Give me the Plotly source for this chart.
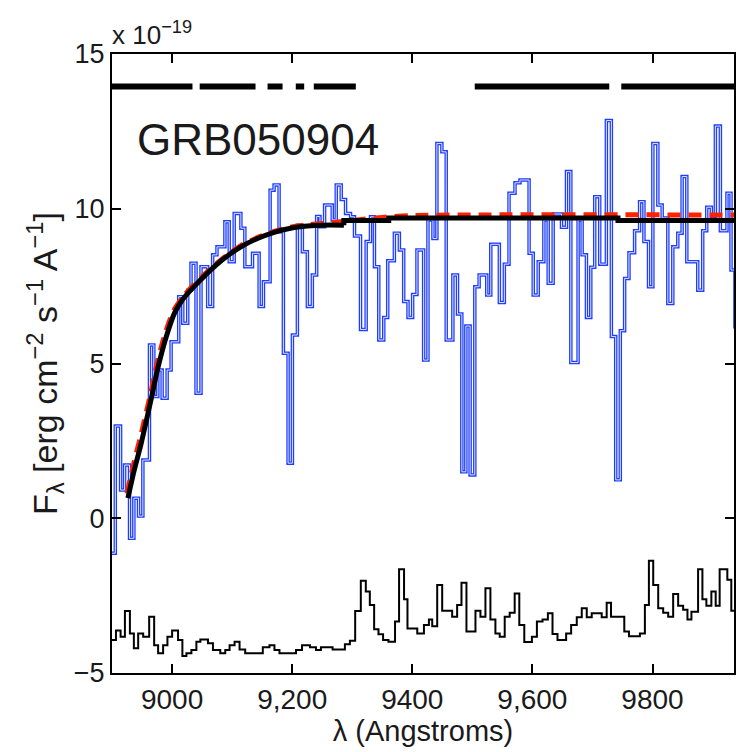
import plotly.graph_objects as go

# ---------------- data ----------------
# Observed spectrum (blue histogram): bin left edges (Angstrom) and flux (1e-19 erg/cm2/s/A)
blue_edges = [8893, 8905.5, 8914.3, 8921.0, 8929.2, 8936.4, 8944.2, 8951.4, 8962.4, 8969.6,
              8976.3, 8983.5, 8991.8, 8998.4, 9011.1, 9017.8, 9026.1, 9031.6, 9039.9, 9048.2,
              9059.3, 9067.6, 9074.8, 9088.0, 9095.2, 9103.5, 9114.6, 9121.2, 9134.0, 9145.0,
              9152.2, 9163.3, 9169.9, 9178.2, 9185.4, 9193.2, 9200.4, 9208.7, 9217.0, 9225.3,
              9233.6, 9240.8,
              9246.3, 9254.0, 9266.7, 9273.4, 9281.7, 9288.9, 9297.2, 9303.8, 9313.8, 9323.2,
              9330.4, 9337.0, 9344.2, 9352.5, 9359.1, 9370.2, 9378.5, 9385.7, 9392.9, 9400.6,
              9407.8, 9418.9, 9426.1, 9434.4, 9441.0, 9449.3, 9456.5, 9467.6, 9475.3, 9482.5,
              9489.2, 9496.3, 9504.1, 9511.3, 9524.0, 9530.7, 9545.0, 9553.3, 9561.1, 9571.0,
              9579.3,
              9594.5, 9601.4, 9609.7, 9619.1, 9626.3, 9634.6, 9648.5, 9656.8, 9664.0, 9676.1,
              9682.8, 9690.0, 9697.2, 9703.8, 9712.1, 9723.2, 9731.5, 9738.7, 9746.4, 9753.6,
              9760.8, 9770.2, 9778.5, 9785.7, 9793.4, 9800.6, 9808.9, 9816.1, 9825.5, 9833.8,
              9842.1, 9849.3, 9857.1, 9875.3, 9883.6, 9890.3, 9898.0, 9904.7, 9913.0, 9924.0,
              9930.7, 9937.3, 9950.0]
blue_flux = [-1.13, 2.98, 0.91, 1.72, -0.65, 0.65, 0.07, 1.88, 5.6, 3.93,
             4.79, 3.88, 4.79, 5.7, 7.16, 6.30, 7.37, 8.24, 4.04, 8.13,
             6.84, 8.51, 8.77, 9.58, 8.29, 9.85, 9.37, 8.13, 8.56, 6.84,
             7.64, 10.6, 10.77, 9.26, 5.33, 1.78, 5.92, 9.47, 8.61, 6.84,
             7.86, 9.75,
             9.42, 10.12, 9.64, 10.77, 10.3, 9.85, 9.74, 9.12, 6.10, 8.94,
             9.74, 8.13, 5.76, 6.49, 8.32, 9.21, 8.67, 7.0, 6.49, 7.23,
             8.67, 5.11, 9.64, 9.04, 12.11, 11.84, 5.76, 7.86, 6.60, 1.50,
             6.21, 1.40, 7.48, 7.86, 7.21, 8.85, 6.97, 8.21, 10.5, 10.84,
             10.93,
             8.56, 7.21, 8.29, 9.64, 7.59, 9.83, 9.40, 11.2, 5.03, 9.64,
             8.51, 6.49, 8.11, 10.39, 8.21, 12.85, 5.87, 1.24, 6.06, 7.75,
             8.58, 9.29, 10.23, 8.94, 7.48, 12.11, 10.12, 9.7, 6.94, 8.77,
             9.21, 11.04, 8.29, 7.37, 9.29, 10.05, 9.75, 12.67, 9.29, 10.5,
             8.02, 6.19]

# Error / noise spectrum (thin black histogram)
noise_edges = [8900, 8906.6, 8914.3, 8921.5, 8929.8, 8936.4, 8943.6, 8951.9, 8961.9, 8970.2,
               8976.8, 8985.1, 8992.3, 9000.1, 9010.0, 9017.2, 9023.9, 9032.2, 9040.5, 9047.1,
               9059.8, 9068.1, 9080.3, 9088.6, 9095.8, 9104.1, 9112.4, 9121.8, 9151.1, 9162.2,
               9170.5, 9178.8, 9206.4, 9216.4, 9229.7, 9239.6, 9247.9, 9267.3, 9287.8, 9296.1,
               9304.9, 9314.3, 9322.6, 9329.3, 9336.5, 9343.7, 9351.4, 9360.3, 9371.3, 9378.0,
               9386.3, 9392.0, 9408.3, 9419.4, 9427.7, 9433.2, 9441.5, 9449.8, 9466.4, 9474.7,
               9481.9, 9490.2, 9505.2, 9513.5, 9521.8, 9530.1, 9538.4, 9545.6, 9553.9, 9562.2,
               9570.5, 9578.2, 9586.5, 9599.2, 9607.5, 9616.9, 9625.8, 9633.5, 9641.8, 9656.2,
               9664.5, 9673.9, 9682.2, 9690.5, 9698.8, 9715.4, 9723.7, 9730.9, 9753.0, 9760.8,
               9779.0, 9787.3, 9794.0, 9801.2, 9809.5, 9817.8, 9826.1, 9834.4, 9842.7, 9851.0,
               9858.2, 9864.8, 9875.9, 9883.1, 9889.7, 9898.0, 9905.2, 9911.8, 9924.6, 9931.2,
               9945.0]
noise_flux = [-3.93, -3.63, -3.83, -3.0, -3.72, -4.20, -3.72, -3.83, -3.18, -4.10,
              -4.36, -4.10, -3.83, -3.63, -3.93, -4.45, -4.36, -4.26, -3.99, -3.92,
              -4.04, -4.26, -4.36, -4.26, -4.10, -3.99, -4.24, -4.36, -4.17, -4.10,
              -4.26, -4.36, -4.26, -4.10, -4.17, -4.26, -4.17, -4.24, -4.07, -3.96,
              -3.0, -2.02, -2.37, -2.80, -3.59, -3.75, -3.93, -3.99, -3.34, -1.65,
              -2.62, -3.56, -3.72, -3.45, -3.27, -3.49, -2.16, -2.99, -3.18, -2.80,
              -2.08, -3.66, -2.99, -3.18, -2.26, -3.27, -3.72, -3.83, -3.18, -3.05,
              -2.43, -3.45, -4.0, -3.83, -3.34, -3.27, -3.07, -3.74, -3.93, -3.72,
              -3.45, -3.20, -2.91, -3.20, -3.07, -3.20, -2.73, -3.18, -3.66, -3.81,
              -3.72, -2.80, -1.37, -2.16, -2.91, -3.05, -3.18, -2.45, -2.83, -2.96,
              -3.27, -3.02, -1.65, -2.62, -2.83, -2.37, -2.83, -1.65, -1.99, -2.99]

# Best-fit model (thick black): smooth rise, then a nearly flat plateau
model_rise_lam = [8926.5, 8937.0, 8948.6, 8965.2, 8976.3, 8990.1, 9003.9, 9017.0, 9031.6, 9059.3,
                  9087.0, 9114.6, 9142.3, 9170.0, 9197.6, 9225.3, 9250.2, 9286.1]
model_rise_flux = [0.65, 1.55, 2.42, 3.85, 4.85, 5.85, 6.62, 7.05, 7.38, 7.93,
                   8.40, 8.77, 9.04, 9.24, 9.37, 9.44, 9.47, 9.47]
model_flat_lam = [9286.1, 9286.1, 9360.8, 9360.8, 9742.5, 9742.5, 9940.0]
model_flat_flux = [9.47, 9.62, 9.62, 9.70, 9.70, 9.62, 9.62]

# Alternative model (red dashed)
alt_lam = [8925.0, 8936.0, 8947.0, 8964.0, 8975.0, 8989.0, 9003.0, 9017.0, 9031.0, 9059.0,
           9087.0, 9114.0, 9142.0, 9170.0, 9197.0, 9225.0, 9250.0, 9300.0, 9350.0, 9400.0,
           9500.0, 9940.0]
alt_flux = [0.8, 1.75, 2.6, 4.0, 5.0, 6.0, 6.72, 7.12, 7.44, 7.97,
            8.43, 8.8, 9.07, 9.27, 9.40, 9.48, 9.52, 9.62, 9.72, 9.78,
            9.80, 9.80]

# Wavelength coverage bars along the top
bar_start = [8900, 9046, 9159, 9206, 9236, 9504, 9748]
bar_end = [9034, 9139, 9184, 9220, 9306, 9728, 9940]
bar_level = 13.95

x_ticks = [9000, 9200, 9400, 9600, 9800]
x_ticktext = ["9000", "9,200", "9400", "9,600", "9800"]
y_ticks = [-5, 0, 5, 10, 15]
y_ticktext = ["\u22125", "0", "5", "10", "15"]

FONT = "Liberation Sans, Arial, Helvetica, sans-serif"
TXT = "#1a1a1a"

fig = go.Figure()

# coverage bars
bx, by = [], []
for s, e in zip(bar_start, bar_end):
    bx += [s, e, None]
    by += [bar_level, bar_level, None]
fig.add_trace(go.Scatter(x=bx, y=by, mode="lines", line=dict(color="black", width=6),
                         hoverinfo="skip"))

# noise spectrum
fig.add_trace(go.Scatter(x=noise_edges, y=noise_flux + [noise_flux[-1]], mode="lines",
                         line=dict(color="black", width=2, shape="hv")))

# observed spectrum: blue outline with light core
fig.add_trace(go.Scatter(x=blue_edges, y=blue_flux + [blue_flux[-1]], mode="lines",
                         line=dict(color="#1f3dff", width=3.5, shape="hv")))
fig.add_trace(go.Scatter(x=blue_edges, y=blue_flux + [blue_flux[-1]], mode="lines",
                         line=dict(color="#dfe5ff", width=1.0, shape="hv")))

# red dashed model
fig.add_trace(go.Scatter(x=alt_lam, y=alt_flux, mode="lines",
                         line=dict(color="#ff2200", width=5, dash="13px,8px", shape="spline",
                                   smoothing=0.8)))
# black model
fig.add_trace(go.Scatter(x=model_rise_lam, y=model_rise_flux, mode="lines",
                         line=dict(color="black", width=5, shape="spline", smoothing=0.8)))
fig.add_trace(go.Scatter(x=model_flat_lam, y=model_flat_flux, mode="lines",
                         line=dict(color="black", width=5)))

fig.update_layout(
    width=737, height=752,
    margin=dict(l=112, r=1, t=54, b=79),
    plot_bgcolor="white", paper_bgcolor="white",
    showlegend=False,
    font=dict(family=FONT, color=TXT),
)
fig.update_xaxes(
    range=[8900, 9935.7], tickmode="array", tickvals=x_ticks, ticktext=x_ticktext,
    ticks="inside", ticklen=9, tickwidth=2, tickcolor="black",
    showline=True, linecolor="black", linewidth=2, mirror="ticks",
    showgrid=False, zeroline=False,
    tickfont=dict(size=28, family=FONT, color=TXT),
    title=dict(text="\u03bb (Angstroms)", font=dict(size=29, family=FONT, color=TXT),
               standoff=4),
)
fig.update_yaxes(
    range=[-5, 15], tickmode="array", tickvals=y_ticks, ticktext=y_ticktext,
    ticks="inside", ticklen=9, tickwidth=2, tickcolor="black",
    showline=True, linecolor="black", linewidth=2, mirror="ticks",
    showgrid=False, zeroline=False,
    tickfont=dict(size=27, family=FONT, color=TXT),
    title=dict(text="F<sub>\u03bb</sub> [erg cm<sup>\u22122</sup> s<sup>\u22121</sup> A<sup>\u22121</sup>]",
               font=dict(size=34, family=FONT, color=TXT), standoff=6),
)

fig.add_annotation(x=9143, y=12.24, xref="x", yref="y", text="GRB050904", showarrow=False,
                   font=dict(size=44, family=FONT, color=TXT),
                   xanchor="center", yanchor="middle")
fig.add_annotation(x=0, y=1, xref="paper", yref="paper",
                   text="x 10<sup>\u221219</sup>", showarrow=False,
                   font=dict(size=26, family=FONT, color=TXT),
                   xanchor="left", yanchor="bottom", xshift=-2, yshift=2)

fig.write_html("out.html")
